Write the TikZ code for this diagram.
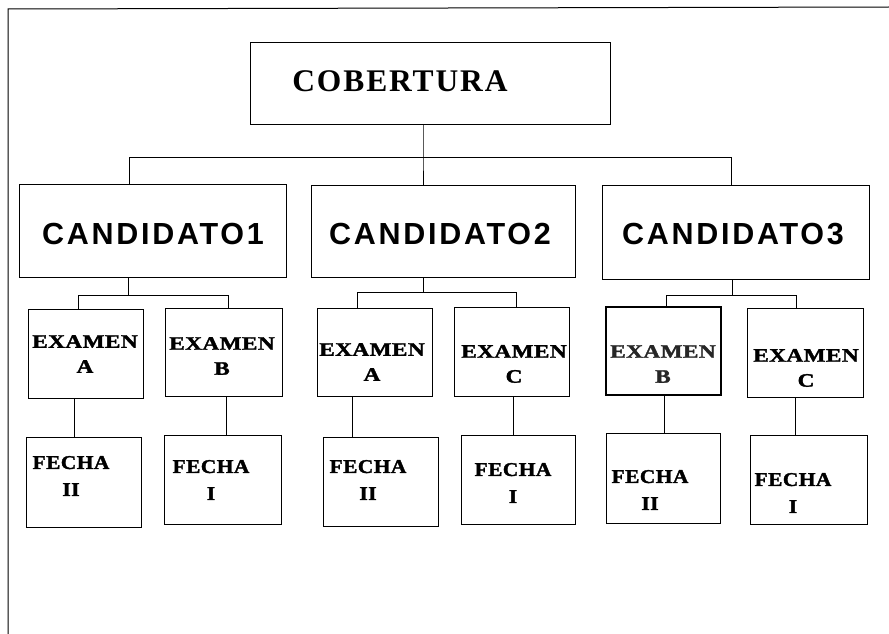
\documentclass[tikz,border=0pt]{standalone}
\usepackage{fontspec}
\usepackage{graphicx}
\setmainfont{Liberation Serif}
\newfontfamily\cobfont[LetterSpace=6]{Liberation Serif}
\newfontfamily\candfont[LetterSpace=9]{Liberation Sans}
\newfontfamily\exfont[LetterSpace=2, BoldFeatures={FakeBold=1.6}]{Liberation Serif}
\newcommand\exw[1]{\scalebox{1.22}[1]{#1}}
\newcommand\few[1]{\scalebox{1.1}[1]{#1}}
\tikzset{
  bx/.style={draw=black, line width=1pt, inner sep=0pt, anchor=north west},
  ln/.style={draw=black, line width=1pt},
  cobtxt/.style={font=\cobfont\bfseries\fontsize{31.5}{34}\selectfont, inner sep=0pt},
  candtxt/.style={font=\candfont\bfseries\fontsize{30.5}{34}\selectfont, inner sep=0pt},
  extxt/.style={font=\exfont\bfseries\fontsize{19}{25}\selectfont, align=center, inner sep=0pt},
  fetxt/.style={font=\exfont\bfseries\fontsize{19.5}{27}\selectfont, align=center, inner sep=0pt},
}
\begin{document}
\begin{tikzpicture}[x=1pt,y=-1pt]
\useasboundingbox (0,0) rectangle (889,634);
\fill[white] (0,0) rectangle (889,634);
% outer frame
\coordinate (fr) at (889,7);
\coordinate (ftl) at (8,9);
\coordinate (fbl) at (8,634);
\draw[ln] (fr) -- (ftl) -- (fbl);
% boxes
\node[bx, minimum width=360, minimum height=82] (cob) at (250,42) {};
\node[bx, minimum width=267, minimum height=93] (c1) at (19,184) {};
\node[bx, minimum width=264, minimum height=92] (c2) at (311,185) {};
\node[bx, minimum width=267, minimum height=94] (c3) at (602,185) {};
\node[bx, minimum width=115, minimum height=89] (e1a) at (28,309) {};
\node[bx, minimum width=117, minimum height=88] (e1b) at (165,308) {};
\node[bx, minimum width=115, minimum height=88] (e2a) at (317,308) {};
\node[bx, minimum width=115, minimum height=89] (e2c) at (454,307) {};
\node[bx, minimum width=115, minimum height=88, line width=1.7pt] (e3b) at (605,306) {};
\node[bx, minimum width=116, minimum height=89] (e3c) at (747,308) {};
\node[bx, minimum width=115, minimum height=90] (f1) at (26,437) {};
\node[bx, minimum width=117, minimum height=89] (f2) at (164,435) {};
\node[bx, minimum width=115, minimum height=89] (f3) at (323,437) {};
\node[bx, minimum width=114, minimum height=89] (f4) at (461,435) {};
\node[bx, minimum width=114, minimum height=90] (f5) at (606,433) {};
\node[bx, minimum width=117, minimum height=89] (f6) at (750,435) {};
% texts
\node[cobtxt] (tcob) at (400,81) {COBERTURA};
\node[candtxt] (tc1) at (153,234) {CANDIDATO1};
\node[candtxt] (tc2) at (440,234) {CANDIDATO2};
\node[candtxt] (tc3) at (733,234) {CANDIDATO3};
\node[extxt] (te1a) at (85,354) {\exw{EXAMEN}\\\exw{A}};
\node[extxt] (te1b) at (222,356) {\exw{EXAMEN}\\\exw{B}};
\node[extxt] (te2a) at (372,362) {\exw{EXAMEN}\\\exw{A}};
\node[extxt] (te2c) at (514,364) {\exw{EXAMEN}\\\exw{C}};
\node[extxt, text=black!85] (te3b) at (663,364) {\exw{EXAMEN}\\\exw{B}};
\node[extxt] (te3c) at (806,368) {\exw{EXAMEN}\\\exw{C}};
\node[fetxt] (tf1) at (71,476) {\few{FECHA}\\\few{II}};
\node[fetxt] (tf2) at (211,480) {\few{FECHA}\\\few{I}};
\node[fetxt] (tf3) at (368,480) {\few{FECHA}\\\few{II}};
\node[fetxt] (tf4) at (513,483) {\few{FECHA}\\\few{I}};
\node[fetxt] (tf5) at (650,490) {\few{FECHA}\\\few{II}};
\node[fetxt] (tf6) at (793,493) {\few{FECHA}\\\few{I}};
% top level connectors
\coordinate (b0) at (423,157);
\coordinate (bl) at (129,157);
\coordinate (br) at (731,157);
\draw[ln] (cob.south -| b0) -- (b0) -- (c2.north -| b0);
\draw[ln] (c1.north -| bl) -- (bl) -- (br) -- (c3.north -| br);
% candidate 1
\coordinate (s1) at (128,295);
\coordinate (s1l) at (78,295);
\coordinate (s1r) at (228,295);
\draw[ln] (c1.south -| s1) -- (s1);
\draw[ln] (e1a.north -| s1l) -- (s1l) -- (s1r) -- (e1b.north -| s1r);
% candidate 2
\coordinate (s2) at (423,292);
\coordinate (s2l) at (357,292);
\coordinate (s2r) at (516,292);
\draw[ln] (c2.south -| s2) -- (s2);
\draw[ln] (e2a.north -| s2l) -- (s2l) -- (s2r) -- (e2c.north -| s2r);
% candidate 3
\coordinate (s3) at (732,295);
\coordinate (s3l) at (666,295);
\coordinate (s3r) at (796,295);
\draw[ln] (c3.south -| s3) -- (s3);
\draw[ln] (e3b.north -| s3l) -- (s3l) -- (s3r) -- (e3c.north -| s3r);
% exam to fecha
\coordinate (v1) at (74,0);
\coordinate (v2) at (226,0);
\coordinate (v3) at (352,0);
\coordinate (v4) at (513,0);
\coordinate (v5) at (664,0);
\coordinate (v6) at (795,0);
\draw[ln] (e1a.south -| v1) -- (f1.north -| v1);
\draw[ln] (e1b.south -| v2) -- (f2.north -| v2);
\draw[ln] (e2a.south -| v3) -- (f3.north -| v3);
\draw[ln] (e2c.south -| v4) -- (f4.north -| v4);
\draw[ln] (e3b.south -| v5) -- (f5.north -| v5);
\draw[ln] (e3c.south -| v6) -- (f6.north -| v6);
\end{tikzpicture}
\end{document}
